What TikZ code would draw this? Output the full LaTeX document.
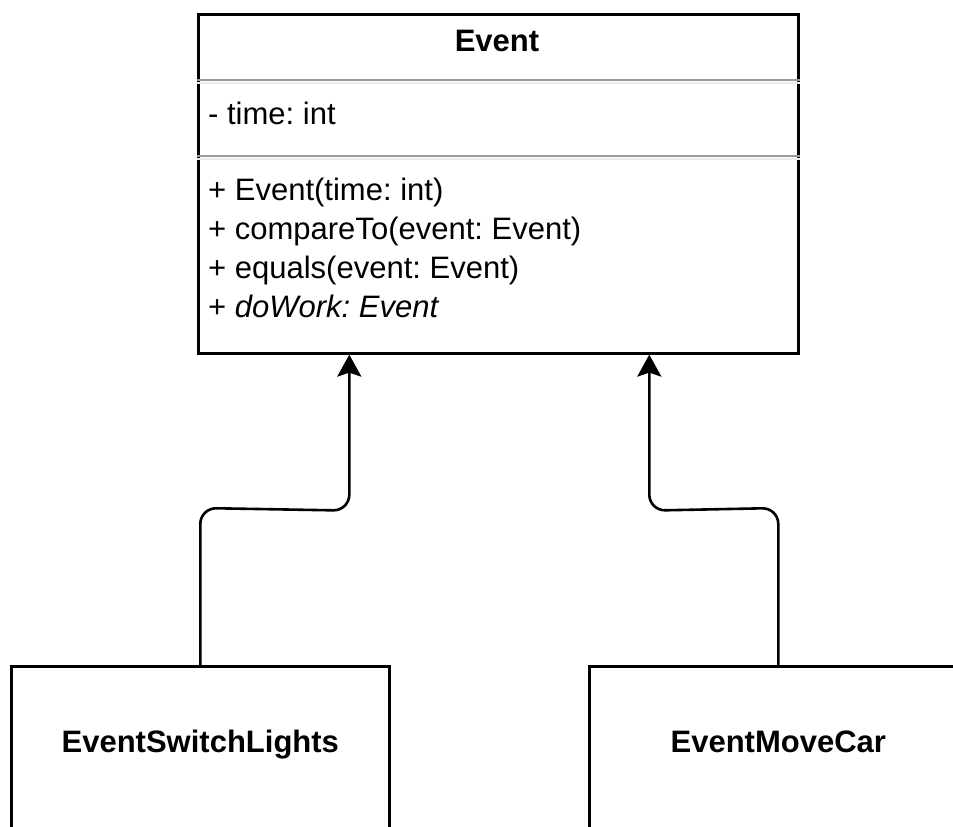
\documentclass[tikz,border=0pt]{standalone}
\usepackage{fontspec}
\setmainfont{Liberation Sans}
\usetikzlibrary{arrows.meta,calc}
\frenchspacing

\tikzset{
  classbox/.style={draw=black, line width=2.6pt, fill=white, inner sep=0pt, anchor=north west},
  sepdark/.style={draw=black!40, line width=2pt},
  seplight/.style={draw=black!8, line width=2pt},
  member/.style={anchor=base west, inner sep=0pt, font=\fontsize{31}{39}\selectfont},
  title/.style={anchor=base, inner sep=0pt, font=\fontsize{31}{39}\selectfont\bfseries},
  inherit/.style={draw=black, line width=2.6pt, rounded corners=16pt,
    -{Stealth[length=22pt, width=24pt, inset=4pt]}},
}

\begin{document}
\begin{tikzpicture}[x=1pt, y=-1pt]
  \useasboundingbox (0,0) rectangle (953,827);
  \clip (0,0) rectangle (953,827);

  % parent class
  \node[classbox, minimum width=600pt, minimum height=339pt] (event) at (197,13) {};
  \node[title] (eventname) at (497,51) {Event};
  \draw[sepdark]  ($(event.north west)+(0,67)$) -- ($(event.north east)+(0,67)$);
  \draw[seplight] ($(event.north west)+(0,69.5)$) -- ($(event.north east)+(0,69.5)$);
  \node[member] (attr) at (208,124) {- time: int};
  \draw[sepdark]  ($(event.north west)+(0,143)$) -- ($(event.north east)+(0,143)$);
  \draw[seplight] ($(event.north west)+(0,145.5)$) -- ($(event.north east)+(0,145.5)$);
  \node[member] (m1) at (208,200) {+ Event(time: int)};
  \node[member] (m2) at (208,239) {+ compareTo(event: Event)};
  \node[member] (m3) at (208,278) {+ equals(event: Event)};
  \node[member] (m4) at (208,317) {+ \textit{doWork: Event}};

  % subclasses
  \node[classbox, minimum width=378pt, minimum height=220pt] (esl) at (10,665) {};
  \node[title] (eslname) at ($(esl.north)+(0,87)$) {EventSwitchLights};
  \node[classbox, minimum width=378pt, minimum height=220pt] (emc) at (588,665) {};
  \node[title] (emcname) at ($(emc.north)+(0,87)$) {EventMoveCar};

  % generalization connectors
  \draw[inherit] (esl.north) -- ($(esl.north)+(0,-157)$)
    -- ($([xshift=-149pt]event.south)+(0,156)$) -- ([xshift=-149pt]event.south);
  \draw[inherit] (emc.north) -- ($(emc.north)+(0,-157)$)
    -- ($([xshift=151pt]event.south)+(0,156)$) -- ([xshift=151pt]event.south);
\end{tikzpicture}
\end{document}
